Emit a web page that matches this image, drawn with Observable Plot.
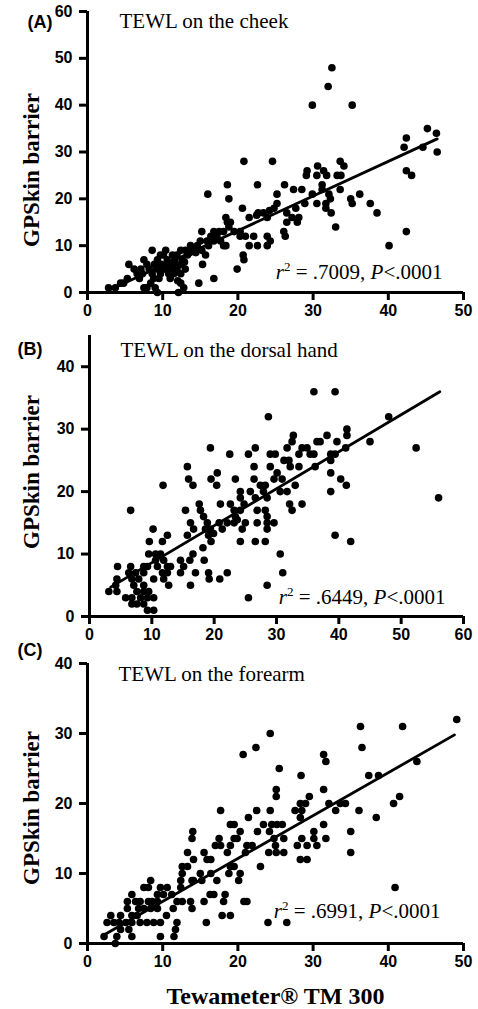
<!DOCTYPE html>
<html><head><meta charset="utf-8">
<script src="https://cdn.jsdelivr.net/npm/d3@7"></script>
<script src="https://cdn.jsdelivr.net/npm/@observablehq/plot@0.6"></script>
<style>
body{margin:0;background:#fff;}
#chart{width:478px;height:1009px;overflow:hidden;background:#fff;}
#chart svg{display:block;overflow:visible;background:transparent;color:#000;}
#chart svg [aria-label^="x-axis"] line,#chart svg [aria-label^="x-axis"] path,
#chart svg [aria-label^="y-axis"] line,#chart svg [aria-label^="y-axis"] path{stroke-width:3px;stroke:#000;}
#chart svg [aria-label^="x-axis"] text,#chart svg [aria-label^="y-axis"] text{font-family:'Liberation Sans',Arial,sans-serif;font-size:16px;font-weight:bold;fill:#000;}
</style>
</head><body><div id="chart"></div>
<script>
// ---- data (x = Tewameter TM 300, y = GPSkin barrier)
const cheek = [[32.5,48],[32,44],[29.9,40],[35.2,40],[45.2,35],[46.4,34],[46.5,30],[42.4,33],[42.1,31],[44.6,31],[42.4,26],[43.1,25],[42.4,13],[40.1,10],
[20.8,28],[24.6,28],[16,21],[18.6,23],[18.8,20],[22.6,23],[26.2,23],[20.6,18],[21.5,16],
[29.1,25],[29.2,26],[30.6,27],[31.4,26],[33.6,28],[34.1,27],[30.5,25],[31.8,25],[33.2,25],[33.7,25],[33.6,22],[31.2,23],[30.5,19],[31.7,19],[32.3,20],[32.1,21],[29.9,21],[28.5,22],[27.4,22],[28.9,19],[31.7,18],[32.4,17],[33,14],[35,20],[35.2,19],[36.2,21],[37.6,19],[38.5,17],[31.2,22],
[22.7,17],[23.4,17],[23.9,16],[24.8,18],[25.2,19],[25.2,21],[26.5,17],[27.2,16],[27.7,18],[26.5,15],[27.9,15],[28.1,16],[26.1,13],[26.3,12],[23.9,12],[24.3,11],[23.9,10],[22.6,10],[21.5,10],[22.1,12],[21,12],[20.3,12],[20.7,8],[20.8,7],[19.9,5],[20.3,13],[19.5,13],[24.2,17.5],[22.5,16.5],
[16.8,13],[17.5,13],[18.1,13],[17.7,11],[18.1,10],[18.6,15],[19,15],[18.4,16],[18.8,14],[16.8,11],[16.1,10],[15.2,9],[15.7,8],[15.2,13],[15.3,6],[16.8,3],[14.8,2],[18.4,10],
[13.7,10],[13,9],[12.4,9],[13.3,8],[12.6,7],[11.9,8],[11.3,8],[10.6,7],[10.4,9],[9.7,8],[9.3,7],[9.8,6],[10.6,6],[11.5,6],[12.4,6],[13,5],[11.9,5],[11,5],[10.2,5],[9.3,5],[12.4,4],[11,3],[9.7,4],[12.4,2],[12.8,1],[12.1,0],[8.6,9],[8.8,3],[8.4,2],[7.9,1],[7.5,1],[9,1],[9.3,0],[7.5,7],[7.9,6],[7.1,5],[6.2,5],[6.6,4],[5.5,6],[5.3,3],[4.4,2],[4.8,2],[3.7,1],[2.8,1],[8.6,4],[8.2,5],[7.3,4],[10.8,4],[11.5,4],
[14.1,9],[14.6,10],[15,11],[15.9,11],[16.4,12],[17.2,12],[10.1,8],[11.6,7],[12.9,6.5],[13.6,8.5],[10.9,6],[9.5,3],[8.9,6],[6.9,3],[12,2.5],[14.4,8.5]];

const hand = [[36,36],[39.4,36],[28.7,32],[48,32],[45,28],[52.4,27],[56,19],[39.4,13],[41.9,12],[30.6,10],[31,7],[28.5,5],[25.5,3],
[19.4,27],[22.5,26],[25.5,26],[26.6,27],[15.7,24],[15.9,22],[16.6,21],[20.5,23],[19.5,22],[20.4,21],[11.8,21],[6.6,17],[15.4,17],[17.6,18],[17.8,17],
[16.2,15],[16.7,14],[15.7,13],[18.3,16],[18.9,15],[18.6,14],[19.4,14],[19.1,13],[19.9,13.3],[19.5,12],[18.2,11],[18.4,9],[16.6,10],[16.1,9],[15.1,8],[14.6,9],[14.6,7],[17,7],[16.2,5],[19.1,7],[19.2,6],[20.9,6],[22.1,7],
[21,18],[20.8,15],[21.3,14],[22.6,18],[23.2,17],[23.4,16],[22.1,15],[23.2,15],[23.7,15.5],[24.2,17],[24.2,19],[24.2,20],[24.8,18],[25,15],[24.5,14],[24.2,12],[23.4,22],[25.8,20],[26.6,19],[26.4,24],[26.9,17],[26.9,15],[26.6,12],[27.9,20],[28.2,21],[28.5,19],[28.2,17],[28.5,16],[28.5,15],[28.5,14],[28.2,12],[29.6,15],[27.4,21],[26.4,22],
[29,26],[29.8,26],[29,24],[30.1,23],[29.6,22],[30.9,22],[30.6,20],[31.7,20],[31.7,27],[32.2,24],[32.5,28],[32.7,29],[33,21],[32.1,18],[32.5,17],[32,25],[31.2,25],[33.6,26],[33.6,24],[34.1,27],[34.9,27],[35.4,26],[36,26],[34.1,18],[36.5,28],[37,28],[38.1,29],[38.7,26],[39.4,26],[38.7,25],[38.7,23],[38.7,20],[39.7,28],[41.3,30],[41.3,29],[41.1,27],[40.3,22],[41.2,21],[36.2,24],
[3.1,4],[4.4,4],[4.5,8],[4.4,6],[4.2,5],[5.8,3],[6.3,7],[6.6,8],[6.8,6],[7.1,5],[6.8,3],[6.8,2],[7.4,7],[7.9,6],[7.6,4],[7.6,2],[8.2,3],[8.7,8],[8.7,7],[8.7,5],[8.7,4],[8.7,2],[9.3,8],[9.3,3],[9.3,1],[9.5,4],[10.3,3],[10.3,1],[9.5,10],[9.6,12],[10.2,14],[10.6,10],[10.6,9],[10.3,6],[11.4,10],[11.7,12],[10.9,8],[11.9,9],[11.7,7],[11.9,6],[12.5,13],[12.5,8],[12.7,5],[12.5,7],[13,8]];

const forearm = [[49.1,32],[36.3,31],[41.9,31],[36.5,28],[43.8,26],[38.7,24],[37.4,24],[38.4,18],[36.1,19],[40.7,20],[41.5,21],[40.9,8],
[24.3,30],[22.4,28],[20.7,27],[31.4,27],[31.7,26],[25.5,25],[25.1,22],[25.1,21],[31.4,22],[32.1,20],[33,19],[33.6,20],[34.3,20],[29.5,21],[28.3,20],[29,20],[27.6,19],[28.5,19],[28.4,24],[28.3,18],[31.4,17],[31.7,15],[35,16],[35,13],[30.1,16],[30.1,15],[30.5,14],[29.2,14],[28.5,15],[27.9,14],[28.3,12],[29.2,12],
[24.3,19],[22.5,19],[21.4,18],[22.6,16],[23.4,17],[24.5,17],[25.2,17],[25.9,17],[24.2,16],[24.8,15],[26.1,15],[24.1,13],[25.1,13],[26.1,13],[25,14],[23,11],[21.2,14],[21.9,14],[21,13],[20.3,16],[19.5,17],[19,17],[19.5,15],[19.9,15],[19,14],[18.6,13],[19,11],[19.5,11],[20.3,10],[20.1,9],[20.8,6],[21.2,6],[17.7,19],[17.5,15],[17,14],[17.7,14],[15.5,13],[15.9,12],[16.4,12],[15,10],[15.2,9],[16.4,10],[17.2,9],[16.3,7],[16.8,7],[18.3,7],[18.1,6],[17.9,4],[19,4],[15.8,3],[15.5,6],[18.8,10],[24,3],[26.5,3],
[14,16],[13.9,15],[14.1,12],[13.3,13],[12.6,11],[13.3,11],[12.6,10],[12.4,9],[12.4,8],[13.9,9],[14.1,9],[12.6,6],[11.9,6],[13.7,6],[13.9,5],[11.2,7],[11.4,5],[10.5,4],[11.9,3],[11.7,2],[11.5,1],[9.7,1],[10.6,8],[9.7,8],[10.1,7],[9.3,6],[9.3,7],
[8.4,9],[7.5,8],[8.1,8],[8.1,6],[8.6,6],[7.5,5],[8.4,5],[9.3,5],[6.8,5],[5.9,7],[5.3,6],[6.4,6],[5.9,4],[6.6,4],[7,3],[7.9,3],[8.8,3],[9.7,3],[5.9,3],[5.1,3],[4.2,3],[3.5,3],[2.6,3],[3.1,4],[4.4,4],[4.4,2],[5.5,2],[3.9,1],[5.9,1],[2.2,1],[3.7,0],[5.3,5],[7,6]];

// fitted regression lines (end points)
const cheekFitX = [3, 46.5],   cheekFitY = [0.6, 32.8];
const handFitX = [3.4, 56.2],  handFitY = [4.7, 36];
const forearmFitX = [2, 48.8], forearmFitY = [1.1, 29.8];

// axes
const xTicksA = [0,10,20,30,40,50], yTicksA = [0,10,20,30,40,50,60];
const xTicksB = [0,10,20,30,40,50,60], yTicksB = [0,10,20,30,40];
const xTicksC = [0,10,20,30,40,50], yTicksC = [0,10,20,30,40];

const titles = ["TEWL on the cheek","TEWL on the dorsal hand","TEWL on the forearm"];
const tags = ["(A)","(B)","(C)"];
const stats = ["r2 = .7009, P<.0001","r2 = .6449, P<.0001","r2 = .6991, P<.0001"];
const yLabel = "GPSkin barrier";
const xLabel = "Tewameter\u00ae TM 300";

const serif = "'Liberation Serif','Times New Roman',serif";
const sans = "'Liberation Sans',Arial,sans-serif";

function panel(o){
  const marks = [
    Plot.dot(o.data, {x: d=>d[0], y: d=>d[1], r: 3.8, fill: "#000", stroke: "none"}),
    Plot.line(o.fitX.map((x,i)=>[x,o.fitY[i]]), {x: d=>d[0], y: d=>d[1], stroke: "#000", strokeWidth: 2.8}),
    Plot.ruleX([0], {stroke: "#000", strokeWidth: 3}),
    Plot.ruleY([0], {stroke: "#000", strokeWidth: 3}),
    Plot.text([o.title], {text: d=>d, frameAnchor: "top-left", textAnchor: "start", lineAnchor: "bottom", dx: o.titleDx, dy: o.titleDy, fontFamily: serif, fontSize: 21, fontWeight: "normal", fill: "#000"}),
    Plot.text([o.tag], {text: d=>d, frameAnchor: "top-left", textAnchor: "start", lineAnchor: "bottom", dx: o.tagDx, dy: o.tagDy, fontFamily: sans, fontSize: 18, fontWeight: "bold", fill: "#000"}),
    Plot.text([yLabel], {text: d=>d, frameAnchor: "left", rotate: -90, textAnchor: "middle", lineAnchor: "bottom", dx: o.ylDx, dy: o.ylDy, fontFamily: serif, fontSize: 23, fontWeight: "bold", fill: "#000"}),
    Plot.text([o.stat], {text: d=>d, frameAnchor: "bottom-right", textAnchor: "end", lineAnchor: "bottom", dx: o.stDx, dy: o.stDy, fontFamily: serif, fontSize: 21, fontWeight: "normal", fill: "#000"})
  ];
  if (o.xlab) marks.push(Plot.text([o.xlab], {text: d=>d, frameAnchor: "bottom", textAnchor: "middle", lineAnchor: "bottom", dy: 60, fontFamily: serif, fontSize: 24, fontWeight: "bold", fill: "#000"}));
  const svg = Plot.plot({
    width: 478, height: o.height,
    marginTop: o.mt, marginBottom: o.mb, marginLeft: o.ml, marginRight: 15,
    style: {fontFamily: sans, fontSize: "16px", fontWeight: "bold", background: "transparent", overflow: "visible", color: "#000"},
    x: {domain: o.xDomain, ticks: o.xTicks, tickSize: 8, tickPadding: 4, label: null, tickFormat: d=>String(d)},
    y: {domain: o.yDomain, ticks: o.yTicks, tickSize: 8, tickPadding: 7, label: null, tickFormat: d=>String(d)},
    marks
  });
  // rich formatting of the statistics text (italic r / P, superscript 2)
  d3.select(svg).selectAll("text").each(function(){
    const t = this.textContent;
    const m = t.match(/^r2 = (\S+), P<(\S+)$/);
    if (!m) return;
    const s = d3.select(this); s.text(null);
    s.append("tspan").attr("font-style","italic").text("r");
    s.append("tspan").attr("font-size","13px").attr("dy","-8px").text("2");
    s.append("tspan").attr("dy","8px").text(` = ${m[1]}, `);
    s.append("tspan").attr("font-style","italic").text("P");
    s.append("tspan").text(`<${m[2]}`);
  });
  return svg;
}

const root = document.getElementById("chart");
root.appendChild(panel({data: cheek, fitX: cheekFitX, fitY: cheekFitY, height: 320, mt: 11, mb: 28, ml: 87,
  xDomain: [0,50], yDomain: [0,60], xTicks: xTicksA, yTicks: yTicksA,
  title: titles[0], titleDx: 32, titleDy: 16, tag: tags[0], tagDx: -60, tagDy: 16,
  ylDx: -49, ylDy: 18, stat: stats[0], stDx: -21, stDy: -14}));
root.appendChild(panel({data: hand, fitX: handFitX, fitY: handFitY, height: 320, mt: 15, mb: 24, ml: 89,
  xDomain: [0,60], yDomain: [0,45], xTicks: xTicksB, yTicks: yTicksB,
  title: titles[1], titleDx: 31, titleDy: 21, tag: tags[1], tagDx: -72, tagDy: 19,
  ylDx: -51, ylDy: -4, stat: stats[1], stDx: -18, stDy: -13}));
root.appendChild(panel({data: forearm, fitX: forearmFitX, fitY: forearmFitY, height: 369, mt: 23, mb: 66, ml: 87,
  xDomain: [0,50], yDomain: [0,40], xTicks: xTicksC, yTicks: yTicksC,
  title: titles[2], titleDx: 31, titleDy: 17, tag: tags[2], tagDx: -70, tagDy: -8,
  ylDx: -49, ylDy: 4.5, stat: stats[2], stDx: -23, stDy: -26, xlab: xLabel}));
</script>
</body></html>
